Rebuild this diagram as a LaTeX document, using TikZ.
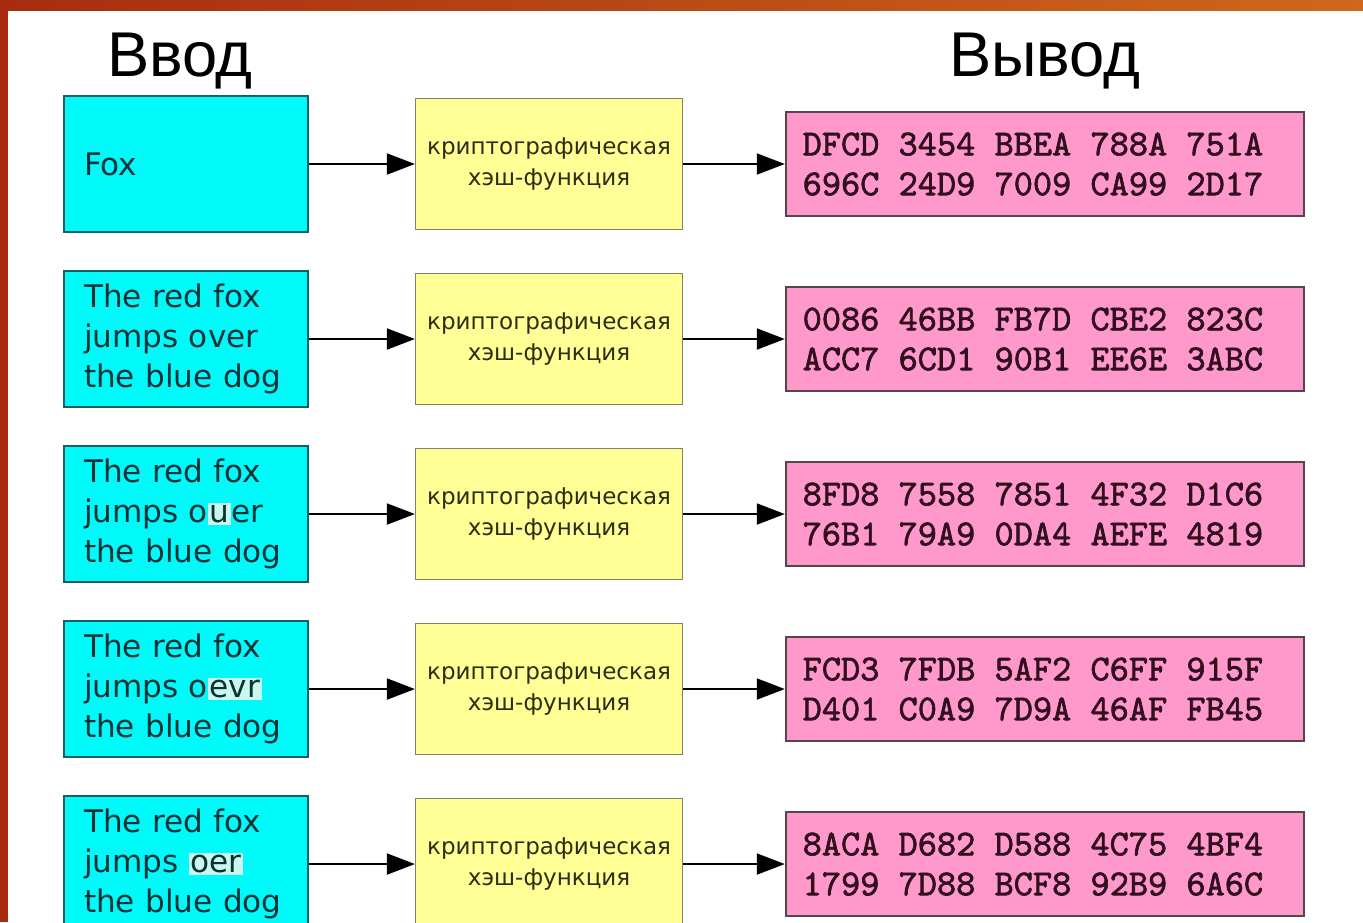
\documentclass[tikz,border=0pt]{standalone}
\usepackage{fontspec}
\usepackage{xcolor}
\usetikzlibrary{arrows.meta, positioning}
\newfontfamily\msgfont{DejaVu Sans}
\newfontfamily\headfont{Liberation Sans}
\newfontfamily\hexfont{lmmono10-regular.otf}[AutoFakeBold=1.8]
\definecolor{slidered}{RGB}{168, 44, 16}
\definecolor{slideorange}{RGB}{206, 104, 28}
\definecolor{msgcyan}{RGB}{0, 250, 250}
\definecolor{msgedge}{RGB}{20, 95, 100}
\definecolor{msgtext}{RGB}{10, 50, 55}
\definecolor{hashyellow}{RGB}{255, 255, 150}
\definecolor{hashedge}{RGB}{130, 130, 100}
\definecolor{hashtext}{RGB}{45, 45, 20}
\definecolor{digestpink}{RGB}{255, 153, 204}
\definecolor{digestedge}{RGB}{85, 70, 75}
\definecolor{digesttext}{RGB}{50, 15, 30}
\definecolor{typoglow}{RGB}{200, 248, 238}
\newcommand{\typo}[1]{{\setlength{\fboxsep}{1pt}\colorbox{typoglow}{#1}}}
\newcommand{\hexrow}[5]{#1\hspace{0.525em}#2\hspace{0.525em}#3\hspace{0.525em}#4\hspace{0.525em}#5}

\begin{document}
\begin{tikzpicture}[
  node distance = 0.745cm and 2.12cm,
  msgbox/.style    = {draw=msgedge, fill=msgcyan, line width=1pt,
                      text width=4.08cm, inner xsep=0.4cm, inner ysep=0pt,
                      minimum height=2.72cm, align=left, text=msgtext,
                      font=\msgfont\fontsize{17.7pt}{22.7pt}\selectfont},
  hashbox/.style   = {draw=hashedge, fill=hashyellow, line width=0.8pt,
                      minimum width=5.34cm, minimum height=2.62cm,
                      align=center, text=hashtext, inner sep=0pt,
                      font=\msgfont\fontsize{13.1pt}{17.4pt}\selectfont},
  digestbox/.style = {draw=digestedge, fill=digestpink, line width=1pt,
                      text width=9.68cm, inner xsep=0.34cm, inner ysep=0pt,
                      minimum height=2.08cm, text=digesttext,
                      font=\hexfont\bfseries\fontsize{20.8pt}{22.7pt}\selectfont},
  headline/.style  = {inner sep=0pt, font=\headfont\fontsize{36pt}{40pt}\selectfont},
  arrow/.style     = {-{Triangle[length=0.56cm, width=0.42cm]}, line width=1.1pt}
]

% Slide frame
\path[clip] (0,0) rectangle (27.26,-18.44);
\fill[white] (0,0) rectangle (27.26,-18.44);
\shade[left color=slidered, right color=slideorange] (0,0) rectangle (27.26,-0.2);
\fill[slidered] (0,0) rectangle (0.16,-18.44);

% Nodes
\node[msgbox] (in1) at (3.72,-3.28) {Fox};
\node[msgbox, below=of in1] (in2) {The red fox\\jumps over\\the blue dog};
\node[msgbox, below=of in2] (in3) {The red fox\\jumps o\typo{u}er\\the blue dog};
\node[msgbox, below=of in3] (in4) {The red fox\\jumps o\typo{evr}\\the blue dog};
\node[msgbox, below=of in4] (in5) {The red fox\\jumps \typo{oer}\\the blue dog};

\node[hashbox, right=of in1] (hash1) {криптографическая\\хэш-функция};
\node[hashbox, right=of in2] (hash2) {криптографическая\\хэш-функция};
\node[hashbox, right=of in3] (hash3) {криптографическая\\хэш-функция};
\node[hashbox, right=of in4] (hash4) {криптографическая\\хэш-функция};
\node[hashbox, right=of in5] (hash5) {криптографическая\\хэш-функция};

\node[digestbox, right=2.03cm of hash1] (out1)
  {\hexrow{DFCD}{3454}{BBEA}{788A}{751A}\\\hexrow{696C}{24D9}{7009}{CA99}{2D17}};
\node[digestbox, right=2.03cm of hash2] (out2)
  {\hexrow{0086}{46BB}{FB7D}{CBE2}{823C}\\\hexrow{ACC7}{6CD1}{90B1}{EE6E}{3ABC}};
\node[digestbox, right=2.03cm of hash3] (out3)
  {\hexrow{8FD8}{7558}{7851}{4F32}{D1C6}\\\hexrow{76B1}{79A9}{0DA4}{AEFE}{4819}};
\node[digestbox, right=2.03cm of hash4] (out4)
  {\hexrow{FCD3}{7FDB}{5AF2}{C6FF}{915F}\\\hexrow{D401}{C0A9}{7D9A}{46AF}{FB45}};
\node[digestbox, right=2.03cm of hash5] (out5)
  {\hexrow{8ACA}{D682}{D588}{4C75}{4BF4}\\\hexrow{1799}{7D88}{BCF8}{92B9}{6A6C}};

% Headings
\node[headline, above=0.12cm of in1, xshift=-0.12cm] (inhead) {Ввод};
\node[headline, anchor=base] (outhead) at (inhead.base -| out1.north) {Вывод};

% Arrows
\draw[arrow] (in1.east) -- (hash1.west);
\draw[arrow] (in2.east) -- (hash2.west);
\draw[arrow] (in3.east) -- (hash3.west);
\draw[arrow] (in4.east) -- (hash4.west);
\draw[arrow] (in5.east) -- (hash5.west);

\draw[arrow] (hash1.east) -- (out1.west);
\draw[arrow] (hash2.east) -- (out2.west);
\draw[arrow] (hash3.east) -- (out3.west);
\draw[arrow] (hash4.east) -- (out4.west);
\draw[arrow] (hash5.east) -- (out5.west);

\end{tikzpicture}
\end{document}
